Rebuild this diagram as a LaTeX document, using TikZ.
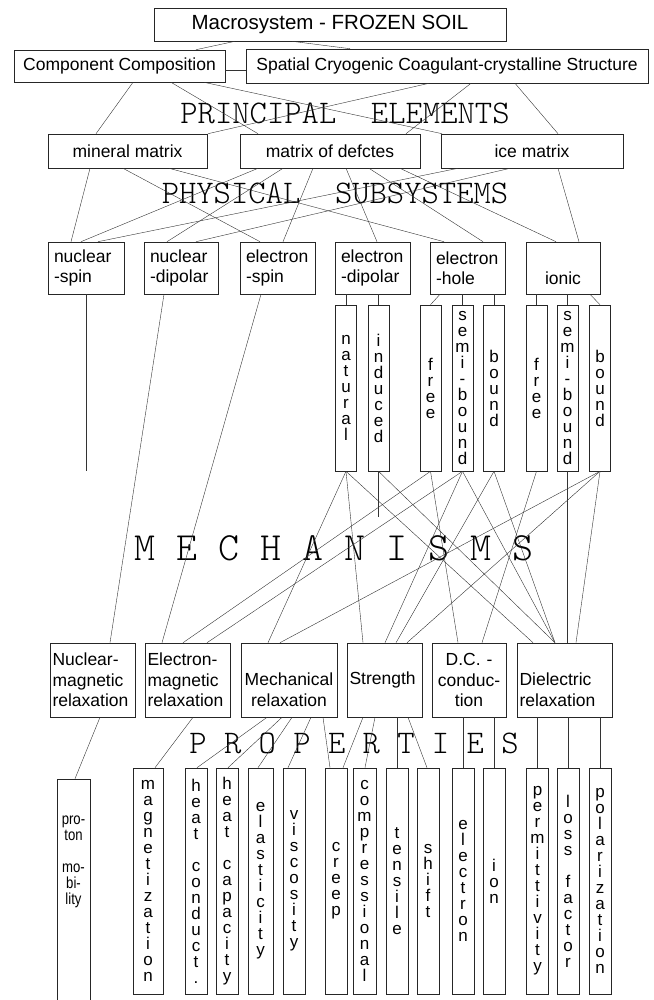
\documentclass[tikz,border=0pt]{standalone}
\usepackage{fontspec}
\setmainfont{Liberation Sans}
\newfontfamily\narrowfont[FakeStretch=0.82]{Liberation Sans}
\newfontfamily\lightmono{lmmonolt10-regular.otf}
\newcommand\boxfont{\fontsize{17.5}{20.5}\selectfont}
\newcommand\bigboxfont{\fontsize{20.5}{24}\selectfont}
\newcommand\colfont{\fontsize{17}{16}\selectfont}
\newcommand\layerfont{\lightmono\fontsize{33}{36}\selectfont}
\newcommand\mechfont{\lightmono\fontsize{40}{44}\selectfont}
\lineskiplimit=-20pt

\begin{document}
\begin{tikzpicture}[x=1pt,y=-1pt,
  box/.style={draw=black!85,line width=0.6pt,inner ysep=0pt,inner xsep=3pt,font=\boxfont},
  prin/.style={box,minimum height=34pt,align=center},
  sub/.style={box,minimum height=52pt,inner xsep=6pt,align=left},
  rel/.style={box,minimum height=74pt,inner xsep=2.5pt,align=left},
  mechcol/.style={draw=black!85,line width=0.6pt,inner sep=0pt,minimum width=21pt,minimum height=166pt,align=center,font=\colfont},
  propcol/.style={mechcol,minimum width=22pt,minimum height=226pt},
  layer/.style={font=\layerfont,inner sep=0pt},
  link/.style={draw=black!80,line width=0.4pt}]
\useasboundingbox (0,0) rectangle (653,1000);

% system level
\node[box,minimum width=352pt,minimum height=33pt,font=\bigboxfont] (macro) at (330,24.5) {Macrosystem - FROZEN SOIL};
\node[box,minimum width=211pt,minimum height=32pt] (comp) at (119.5,66) {Component Composition};
\node[box,minimum width=402pt,minimum height=34pt] (spat) at (447,66) {Spatial Cryogenic Coagulant-crystalline Structure};

\node[layer] (principal) at (345,113) {PRINCIPAL\ \ ELEMENTS};
\node[prin,minimum width=159pt] (mineral) at (127.5,151) {mineral matrix};
\node[prin,minimum width=180pt] (defect) at (330,151) {matrix of defctes};
\node[prin,minimum width=182pt] (ice) at (532,151) {ice matrix};

\node[layer] (physical) at (335,193) {PHYSICAL\ \ SUBSYSTEMS};
\node[sub,text width=64pt] (nspin) at (86,268) {nuclear\\-spin};
\node[sub,text width=62pt] (ndip) at (181,268) {nuclear\\-dipolar};
\node[sub,text width=63pt] (espin) at (277.5,268) {electron\\-spin};
\node[sub,text width=63pt] (edip) at (372.5,268) {electron\\-dipolar};
\node[sub,text width=63pt] (ehole) at (467.5,268) {electron\\-hole};
\node[sub,text width=62pt,align=center] (ionic) at (563,268) {\phantom{l}\\ionic};

% mechanisms
\node[mechcol] (natural) at (346,388) {n\\a\\t\\u\\r\\a\\l};
\node[mechcol] (induced) at (378.5,388) {i\\n\\d\\u\\c\\e\\d};
\node[mechcol] (efree) at (430.5,388) {f\\r\\e\\e};
\node[mechcol] (esemi) at (462.5,388) {s\\e\\m\\i\\-\\b\\o\\u\\n\\d};
\node[mechcol] (ebound) at (494,388) {b\\o\\u\\n\\d};
\node[mechcol] (ifree) at (536.5,388) {f\\r\\e\\e};
\node[mechcol] (isemi) at (567.5,388) {s\\e\\m\\i\\-\\b\\o\\u\\n\\d};
\node[mechcol] (ibound) at (600,388) {b\\o\\u\\n\\d};
\coordinate (nspinend) at (nspin.south |- natural.south);
\coordinate (inducedend) at (378.5,517);

\node[font=\mechfont,inner sep=0pt] (mechanisms) at (334,548) {M E C H A N I S M S};

% relaxations
\node[rel,text width=80pt] (nmr) at (92.5,680) {Nuclear-\\magnetic\\relaxation};
\node[rel,text width=80pt] (emr) at (187.5,680) {Electron-\\magnetic\\relaxation};
\node[rel,text width=91pt,align=center] (mech) at (289,680) {\phantom{N}\\Mechanical\\relaxation};
\node[rel,text width=70pt] (strength) at (384.5,680) {Strength};
\node[rel,text width=69pt,align=center] (dc) at (469,680) {D.C. -\\conduc-\\tion};
\node[rel,text width=90pt] (diel) at (564.5,680) {\phantom{N}\\Dielectric\\relaxation};

\node[layer] (properties) at (354,743) {P R O P E R T I E S};

% properties
\node[propcol,minimum width=33pt,minimum height=224pt,
  label={[font=\narrowfont\fontsize{16}{16}\selectfont,align=center,anchor=north,yshift=-34pt]north:{pro-\\ton\\\mbox{}\\mo-\\bi-\\lity}}] (proton) at (73.5,891) {};
\node[propcol,minimum width=30pt] (magn) at (148,881) {m\\a\\g\\n\\e\\t\\i\\z\\a\\t\\i\\o\\n};
\node[propcol] (hcond) at (196,881) {h\\e\\a\\t\\\mbox{}\\c\\o\\n\\d\\u\\c\\t\\.};
\node[propcol] (hcap) at (227,881) {h\\e\\a\\t\\\mbox{}\\c\\a\\p\\a\\c\\i\\t\\y};
\node[propcol,minimum width=25pt] (elast) at (260.5,881) {e\\l\\a\\s\\t\\i\\c\\i\\t\\y};
\node[propcol] (visc) at (294,881) {v\\i\\s\\c\\o\\s\\i\\t\\y};
\node[propcol] (creep) at (336,881) {c\\r\\e\\e\\p};
\node[propcol,minimum width=23pt] (compr) at (364.5,881) {c\\o\\m\\p\\r\\e\\s\\s\\i\\o\\n\\a\\l};
\node[propcol] (tens) at (397,881) {t\\e\\n\\s\\i\\l\\e};
\node[propcol] (shift) at (428,881) {s\\h\\i\\f\\t};
\node[propcol] (electron) at (463,881) {e\\l\\e\\c\\t\\r\\o\\n};
\node[propcol] (ion) at (494,881) {i\\o\\n};
\node[propcol] (perm) at (537.5,881) {p\\e\\r\\m\\i\\t\\t\\i\\v\\i\\t\\y};
\node[propcol] (loss) at (568,881) {l\\o\\s\\s\\\mbox{}\\f\\a\\c\\t\\o\\r};
\node[propcol] (polar) at (600,881) {p\\o\\l\\a\\r\\i\\z\\a\\t\\i\\o\\n};

% top links
\draw[link] ([xshift=-95pt]macro.south) -- ([xshift=76.5pt]comp.north);
\draw[link] ([xshift=-38pt]macro.south) -- ([xshift=-97pt]spat.north);
\draw[link] ([yshift=-4pt]comp.east) -- ([yshift=-4pt]spat.west);
% to principal elements
\draw[link] ([xshift=13.5pt]comp.south) -- ([xshift=-31.5pt]mineral.north);
\draw[link] ([xshift=51.5pt]comp.south) -- ([xshift=-72pt]defect.north);
\draw[link] ([xshift=84.5pt]comp.south) -- ([xshift=-90pt]ice.north);
\draw[link] ([xshift=-18pt]spat.south) -- ([xshift=80.5pt]mineral.north);
\draw[link] ([xshift=24pt]spat.south) -- ([xshift=76pt]defect.north);
\draw[link] ([xshift=68pt]spat.south) -- ([xshift=26pt]ice.north);
% to subsystems
\draw[link] ([xshift=-37.5pt]mineral.south) -- ([xshift=-15pt]nspin.north);
\draw[link] ([xshift=-4.5pt]mineral.south) -- ([xshift=-17.5pt]espin.north);
\draw[link] ([xshift=41.5pt]mineral.south) -- ([xshift=-23.5pt]ehole.north);
\draw[link] ([xshift=-72pt]defect.south) -- ([xshift=-5pt]nspin.north);
\draw[link] ([xshift=-47pt]defect.south) -- ([xshift=-14pt]ndip.north);
\draw[link] ([xshift=-17pt]defect.south) -- ([xshift=5.5pt]espin.north);
\draw[link] ([xshift=16pt]defect.south) -- ([xshift=4.5pt]edip.north);
\draw[link] ([xshift=39pt]defect.south) -- ([xshift=15.5pt]ehole.north);
\draw[link] ([xshift=70pt]defect.south) -- ([xshift=-7pt]ionic.north);
\draw[link] ([xshift=-74pt]ice.south) -- ([xshift=12pt]nspin.north);
\draw[link] ([xshift=-22pt]ice.south) -- ([xshift=15pt]ndip.north);
\draw[link] ([xshift=26pt]ice.south) -- ([xshift=16pt]ionic.north);
% to mechanisms
\draw[link] (natural.north |- edip.south) -- (natural.north);
\draw[link] (induced.north |- edip.south) -- (induced.north);
\draw[link] ([xshift=-27.5pt]ehole.south) -- (efree.north);
\draw[link] (esemi.north |- ehole.south) -- (esemi.north);
\draw[link] (ebound.north |- ehole.south) -- (ebound.north);
\draw[link] (ifree.north |- ionic.south) -- (ifree.north);
\draw[link] (isemi.north |- ionic.south) -- (isemi.north);
\draw[link] ([xshift=27pt]ionic.south) -- (ibound.north);
\draw[link] (nspin.south) -- (nspinend);
\draw[link] (induced.south) -- (inducedend);
% to relaxations
\draw[link] ([xshift=-17pt]ndip.south) -- ([xshift=17.5pt]nmr.north);
\draw[link] ([xshift=-16.5pt]espin.south) -- ([xshift=-25.5pt]emr.north);
\draw[link] (natural.south) -- ([xshift=-21pt]mech.north);
\draw[link] (natural.south) -- ([xshift=-21.5pt]strength.north);
\draw[link] (natural.south) -- ([xshift=-31.5pt]diel.north);
\draw[link] (induced.south) -- ([xshift=-9.5pt]diel.north);
\draw[link] (efree.south) -- ([xshift=-4.5pt]emr.north);
\draw[link] (efree.south) -- ([xshift=-11pt]dc.north);
\draw[link] (esemi.south) -- ([xshift=19.5pt]emr.north);
\draw[link] (esemi.south) -- ([xshift=0.5pt]strength.north);
\draw[link] (esemi.south) -- ([xshift=-9.5pt]diel.north);
\draw[link] (ebound.south) -- ([xshift=11.5pt]strength.north);
\draw[link] (ebound.south) -- ([xshift=-9.5pt]diel.north);
\draw[link] (ifree.south) -- ([xshift=13pt]dc.north);
\draw[link] (isemi.south) -- (isemi.south |- diel.north);
\draw[link] (ibound.south) -- ([xshift=-9pt]mech.north);
\draw[link] (ibound.south) -- ([xshift=22.5pt]strength.north);
\draw[link] (ibound.south) -- ([xshift=11.5pt]diel.north);
% to properties
\draw[link] ([xshift=7.5pt]nmr.south) -- ([xshift=1.5pt]proton.north);
\draw[link] ([xshift=5.5pt]emr.south) -- ([xshift=7pt]magn.north);
\draw[link] ([xshift=-22pt]mech.south) -- ([xshift=1pt]hcond.north);
\draw[link] ([xshift=-7pt]mech.south) -- ([xshift=1pt]hcap.north);
\draw[link] ([xshift=3pt]mech.south) -- ([xshift=-2.5pt]elast.north);
\draw[link] ([xshift=22pt]mech.south) -- ([xshift=-6pt]visc.north);
\draw[link] ([xshift=34pt]mech.south) -- ([xshift=-6pt]creep.north);
\draw[link] ([xshift=-21.5pt]strength.south) -- ([xshift=7pt]creep.north);
\draw[link] ([xshift=-9.5pt]strength.south) -- ([xshift=0.5pt]compr.north);
\draw[link] (tens.north |- strength.south) -- (tens.north);
\draw[link] ([xshift=23.5pt]strength.south) -- ([xshift=-1pt]shift.north);
\draw[link] (electron.north |- dc.south) -- (electron.north);
\draw[link] (ion.north |- dc.south) -- (ion.north);
\draw[link] (perm.north |- diel.south) -- (perm.north);
\draw[link] (loss.north |- diel.south) -- (loss.north);
\draw[link] (polar.north |- diel.south) -- (polar.north);
\end{tikzpicture}
\end{document}
